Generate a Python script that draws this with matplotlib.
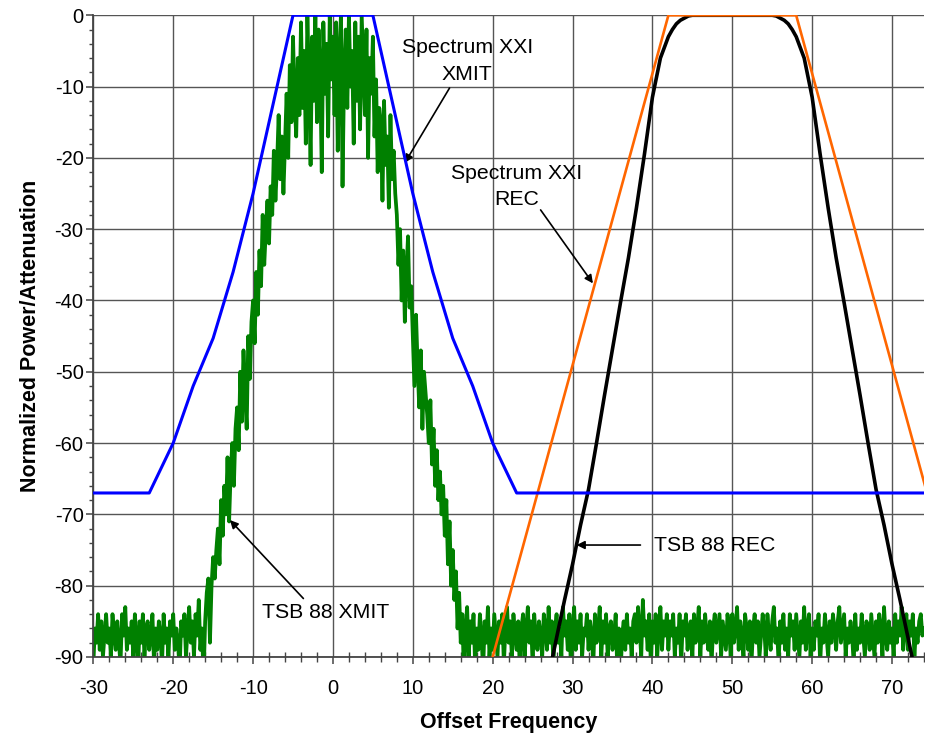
import numpy as np
import matplotlib
matplotlib.use("Agg")
import matplotlib.pyplot as plt
from matplotlib.ticker import MultipleLocator

plt.rcParams['font.family'] = ['Liberation Sans', 'DejaVu Sans']
plt.rcParams['axes.unicode_minus'] = False

# Spectrum XXI transmitter mask (blue)
xmit_mask_f = [-30, -23, -20, -17.5, -15, -12.5, -10, -5, 5, 10, 12.5, 15, 17.5, 20, 23, 74]
xmit_mask_db = [-67, -67, -60, -52, -45.3, -36, -25, 0, 0, -25, -36, -45.3, -52, -60, -67, -67]

# Spectrum XXI receiver mask (orange)
rec_mask_f = [20, 42, 58, 80]
rec_mask_db = [-90, 0, 0, -90]

# TSB 88 receiver selectivity (black)
rec_f = [27.0, 27.5, 28, 29, 30, 31, 32, 33, 34, 35, 36, 37, 38, 39, 40, 41, 42, 42.5,
         43, 43.5, 44, 44.5, 45, 55, 55.5, 56, 56.5, 57, 57.5, 58, 59, 60, 61, 62, 63,
         64, 65, 66, 67, 68, 69, 70, 71, 72, 72.5, 73]
rec_db = [-93, -90, -87.3, -82, -77, -71.5, -66.5, -60, -53.3, -46.8, -40.3, -34, -27,
          -19.5, -11.5, -6, -3, -2, -1.2, -0.7, -0.4, -0.1, 0, 0, -0.1, -0.4, -0.7, -1.2,
          -2, -3, -6, -11.5, -19.5, -27, -34, -40.3, -46.8, -53.3, -60, -66.5, -71.5,
          -77, -82, -87.3, -90, -93]

# TSB 88 transmitter spectrum (green), sampled every 0.2 from -30 to 74
xmit_db = [
    -91, -86, -88, -84, -89, -85, -90, -87, -84, -88,
    -86, -90, -84, -87, -89, -85, -88, -91, -84, -87,
    -83, -89, -86, -88, -85, -90, -84, -87, -92, -85,
    -88, -84, -90, -86, -85, -89, -87, -84, -91, -86,
    -89, -85, -87, -91, -84, -88, -86, -90, -85, -87,
    -84, -89, -86, -88, -92, -85, -87, -84, -90, -86,
    -83, -88, -85, -90, -84, -87, -82, -89, -86, -93,
    -85, -81, -79, -88, -80, -76, -79, -75, -72, -77,
    -68, -73, -66, -70, -62, -71, -64, -60, -66, -58,
    -55, -61, -50, -57, -47, -53, -58, -45, -51, -43,
    -40, -46, -36, -42, -33, -38, -28, -35, -30, -26,
    -32, -24, -28, -19, -26, -21, -14, -23, -17, -25,
    -18, -11, -20, -7, -15, -3, -12, -17, -6, -14,
    -1, -13, -5, -18, 0, -9, -21, -3, -12, 0,
    -15, -2, -8, -22, -1, -11, -4, -17, 0, -9,
    -3, -14, -1, -19, -6, 0, -24, -8, -2, -13,
    0, -10, -5, -18, -1, -12, -3, -16, 0, -7,
    -14, -2, -20, -6, -11, -3, -17, -9, -22, -13,
    -15, -26, -12, -21, -17, -27, -14, -23, -19, -25,
    -28, -35, -30, -40, -33, -43, -36, -31, -41, -38,
    -45, -52, -42, -49, -55, -47, -58, -50, -53, -56,
    -60, -54, -63, -58, -66, -61, -68, -64, -70, -66,
    -73, -68, -77, -71, -80, -75, -82, -78, -86, -81,
    -88, -84, -93, -86, -83, -90, -85, -88, -84, -91,
    -86, -89, -84, -87, -92, -85, -88, -83, -90, -86,
    -89, -84, -87, -90, -85, -88, -84, -91, -86, -83,
    -88, -85, -90, -84, -87, -89, -85, -92, -86, -84,
    -90, -86, -83, -88, -85, -91, -84, -87, -89, -85,
    -87, -90, -84, -86, -89, -83, -88, -85, -91, -86,
    -84, -88, -86, -90, -83, -87, -85, -89, -84, -92,
    -86, -83, -89, -85, -88, -84, -90, -86, -87, -84,
    -89, -85, -87, -91, -84, -88, -86, -83, -90, -85,
    -88, -84, -90, -86, -85, -89, -87, -84, -92, -86,
    -93, -87, -85, -89, -84, -88, -86, -90, -85, -84,
    -88, -83, -86, -90, -82, -87, -85, -89, -84, -91,
    -85, -88, -84, -90, -86, -83, -89, -85, -87, -84,
    -89, -85, -87, -84, -90, -86, -88, -84, -91, -85,
    -87, -84, -89, -86, -85, -90, -84, -88, -86, -83,
    -90, -85, -88, -84, -87, -89, -85, -91, -86, -84,
    -88, -86, -84, -90, -85, -87, -89, -84, -86, -90,
    -84, -88, -86, -83, -89, -85, -87, -90, -84, -86,
    -89, -85, -91, -86, -84, -88, -85, -90, -87, -84,
    -86, -90, -84, -87, -89, -85, -83, -88, -86, -91,
    -85, -88, -84, -89, -86, -90, -84, -87, -85, -89,
    -84, -87, -90, -85, -88, -83, -89, -86, -84, -90,
    -86, -89, -85, -87, -84, -91, -86, -88, -84, -87,
    -90, -85, -88, -84, -86, -89, -85, -83, -88, -86,
    -84, -90, -86, -88, -85, -87, -91, -84, -89, -86,
    -88, -84, -87, -90, -85, -86, -89, -84, -87, -90,
    -85, -88, -84, -86, -90, -83, -87, -89, -85, -88,
    -86, -90, -84, -88, -85, -87, -83, -89, -86, -84,
    -89, -85, -87, -84, -90, -86, -88, -85, -84, -87,
    -86,
]
xmit_f = np.linspace(-30, 74, len(xmit_db))

fig = plt.figure(figsize=(9.25, 7.38), dpi=100)
ax = fig.add_axes([0.1009, 0.1098, 0.898, 0.8695])

ax.plot(xmit_f, xmit_db, color="#008000", lw=2.7, zorder=2)
ax.plot(rec_f, rec_db, color="black", lw=2.6, zorder=3)
ax.plot(rec_mask_f, rec_mask_db, color="#FF6600", lw=1.9, zorder=4)
ax.plot(xmit_mask_f, xmit_mask_db, color="#0000FF", lw=2.2, zorder=5)

ax.set_xlim(-30, 74)
ax.set_ylim(-90, 0)
ax.xaxis.set_major_locator(MultipleLocator(10))
ax.xaxis.set_minor_locator(MultipleLocator(2))
ax.yaxis.set_major_locator(MultipleLocator(10))
ax.yaxis.set_minor_locator(MultipleLocator(2))
ax.grid(True, which="major", color="#555555", lw=1.0, zorder=1)
ax.set_axisbelow(True)

for s in ["top", "right"]:
    ax.spines[s].set_visible(False)
for s in ["left", "bottom"]:
    ax.spines[s].set_color("#444444")
    ax.spines[s].set_linewidth(1.3)

ax.tick_params(axis="both", which="major", direction="out", length=5, width=1.1,
               color="#444444", labelsize=14.5)
ax.tick_params(axis="y", which="minor", direction="out", length=3, width=1.0, color="#444444")
ax.tick_params(axis="x", which="minor", direction="inout", length=7, width=1.0, color="#444444")
ax.tick_params(axis="x", which="major", pad=11)
ax.tick_params(axis="y", which="major", pad=2)

ax.set_xlabel("Offset Frequency", fontsize=15.5, fontweight="bold", labelpad=10)
ax.set_ylabel("Normalized Power/Attenuation", fontsize=15.5, fontweight="bold", labelpad=10)

arrow = dict(arrowstyle="-|>", color="black", lw=1.2, mutation_scale=12, shrinkA=0, shrinkB=0)
ax.text(16.8, -6.4, "Spectrum XXI\nXMIT", fontsize=15.3, ha="center", va="center",
        linespacing=1.55, zorder=6)
ax.annotate("", xy=(9.0, -20.7), xytext=(14.6, -10.2), arrowprops=arrow)
ax.text(23.0, -24.0, "Spectrum XXI\nREC", fontsize=15.3, ha="center", va="center",
        linespacing=1.45, zorder=6)
ax.annotate("", xy=(32.55, -37.6), xytext=(26.0, -27.3), arrowprops=arrow)
ax.text(40.2, -74.3, "TSB 88 REC", fontsize=15.3, ha="left", va="center")
ax.annotate("", xy=(30.5, -74.3), xytext=(38.5, -74.3), arrowprops=arrow)
ax.text(-0.9, -83.7, "TSB 88 XMIT", fontsize=15.3, ha="center", va="center")
ax.annotate("", xy=(-12.9, -70.8), xytext=(-3.7, -81.8), arrowprops=arrow)

fig.savefig("out.png", dpi=100)
